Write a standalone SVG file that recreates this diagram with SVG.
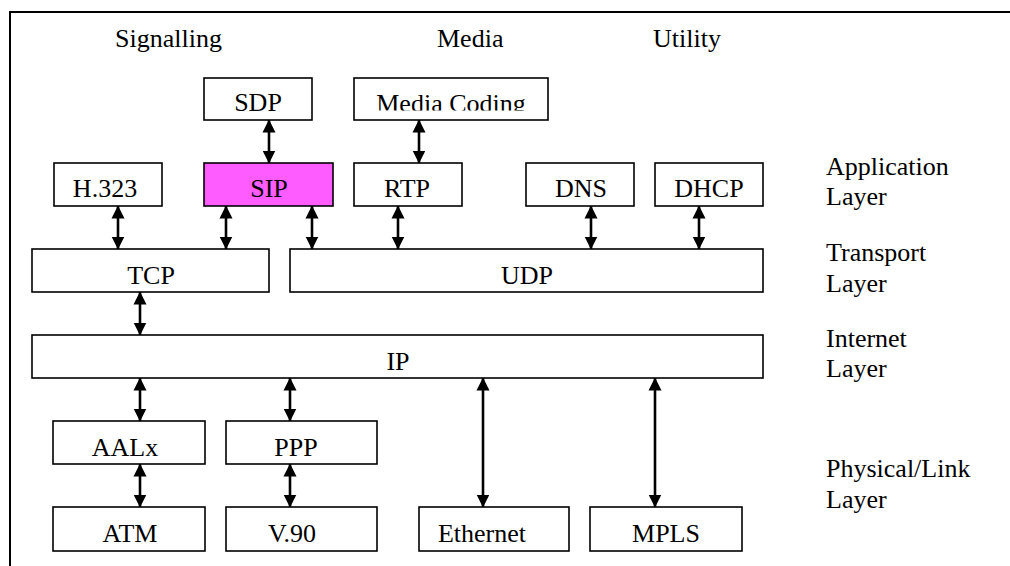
<svg xmlns="http://www.w3.org/2000/svg" width="1010" height="566" viewBox="0 0 1010 566">
<defs>
<style>
.box{fill:#fff;stroke:#000;stroke-width:1.6}
.t{font-family:"Liberation Serif","Times New Roman",serif;font-size:26px;fill:#000}
.m{text-anchor:middle}
.c{stroke:#000;stroke-width:2.6;fill:none;marker-start:url(#ah);marker-end:url(#ah)}
</style>
<marker id="ah" markerUnits="userSpaceOnUse" markerWidth="14" markerHeight="14" refX="12.5" refY="7" orient="auto-start-reverse" viewBox="0 0 14 14">
<path d="M0,0.5 L13,7 L0,13.5 Z" fill="#000"/>
</marker>
<clipPath id="mcclip"><rect x="354" y="78" width="194" height="32.5"/></clipPath>
</defs>
<rect width="1010" height="566" fill="#fff"/>
<path d="M10,566 V12 H1010" fill="none" stroke="#000" stroke-width="2"/>

<g id="labels" class="t">
<text x="115" y="47">Signalling</text>
<text x="437" y="47">Media</text>
<text x="653" y="47">Utility</text>
<text x="826" y="175">Application</text>
<text x="826" y="205">Layer</text>
<text x="826" y="261">Transport</text>
<text x="826" y="292">Layer</text>
<text x="826" y="347">Internet</text>
<text x="826" y="377">Layer</text>
<text x="826" y="477">Physical/Link</text>
<text x="826" y="508">Layer</text>
</g>

<g id="connectors">
<line class="c" x1="269" y1="120" x2="269" y2="163"/>
<line class="c" x1="419" y1="120" x2="419" y2="163"/>
<line class="c" x1="118" y1="206" x2="118" y2="249"/>
<line class="c" x1="226" y1="206" x2="226" y2="249"/>
<line class="c" x1="312" y1="206" x2="312" y2="249"/>
<line class="c" x1="398" y1="206" x2="398" y2="249"/>
<line class="c" x1="591" y1="206" x2="591" y2="249"/>
<line class="c" x1="699" y1="206" x2="699" y2="249"/>
<line class="c" x1="140" y1="292" x2="140" y2="335"/>
<line class="c" x1="140" y1="378" x2="140" y2="421"/>
<line class="c" x1="290" y1="378" x2="290" y2="421"/>
<line class="c" x1="140" y1="464" x2="140" y2="507"/>
<line class="c" x1="290" y1="464" x2="290" y2="507"/>
<line class="c" x1="483" y1="378" x2="483" y2="507"/>
<line class="c" x1="655" y1="378" x2="655" y2="507"/>
</g>

<g id="sdp"><rect class="box" x="204" y="78" width="108" height="42"/><text class="t m" x="258" y="111">SDP</text></g>
<g id="mediacoding"><rect class="box" x="354" y="78" width="194" height="42"/><text class="t m" x="451" y="112" clip-path="url(#mcclip)">Media Coding</text></g>
<g id="h323"><rect class="box" x="54" y="163" width="108" height="43"/><text class="t m" x="105" y="197">H.323</text></g>
<g id="sip"><rect class="box" x="204" y="163" width="129" height="43" style="fill:#ff5cff"/><text class="t m" x="269" y="197">SIP</text></g>
<g id="rtp"><rect class="box" x="354" y="163" width="108" height="43"/><text class="t m" x="407" y="197">RTP</text></g>
<g id="dns"><rect class="box" x="526" y="163" width="108" height="43"/><text class="t m" x="581" y="197">DNS</text></g>
<g id="dhcp"><rect class="box" x="655" y="163" width="108" height="43"/><text class="t m" x="709" y="197">DHCP</text></g>
<g id="tcp"><rect class="box" x="32" y="249" width="237" height="43"/><text class="t m" x="151" y="284">TCP</text></g>
<g id="udp"><rect class="box" x="290" y="249" width="473" height="43"/><text class="t m" x="527" y="284">UDP</text></g>
<g id="ip"><rect class="box" x="32" y="335" width="731" height="43"/><text class="t m" x="398" y="370">IP</text></g>
<g id="aalx"><rect class="box" x="53" y="421" width="152" height="43"/><text class="t m" x="125" y="456">AALx</text></g>
<g id="ppp"><rect class="box" x="226" y="421" width="151" height="43"/><text class="t m" x="296" y="456">PPP</text></g>
<g id="atm"><rect class="box" x="53" y="507" width="152" height="44"/><text class="t m" x="130" y="542">ATM</text></g>
<g id="v90"><rect class="box" x="226" y="507" width="151" height="44"/><text class="t m" x="292" y="542">V.90</text></g>
<g id="ethernet"><rect class="box" x="419" y="507" width="150" height="44"/><text class="t m" x="482" y="542">Ethernet</text></g>
<g id="mpls"><rect class="box" x="590" y="507" width="152" height="44"/><text class="t m" x="666" y="542">MPLS</text></g>
</svg>
